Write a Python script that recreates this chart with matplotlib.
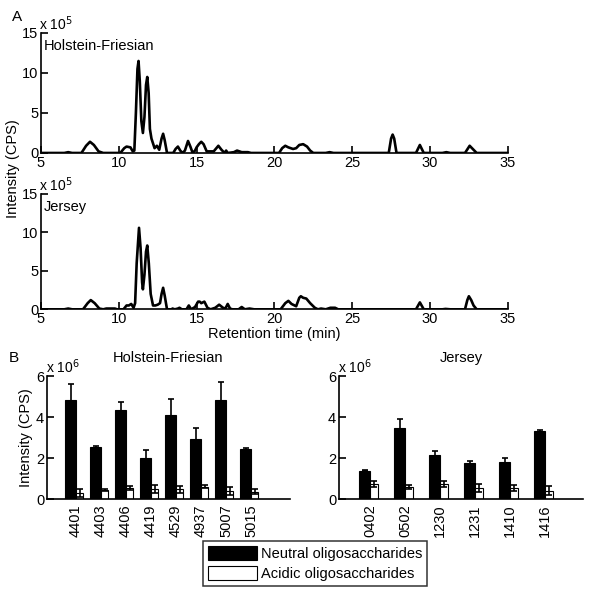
import numpy as np
from matplotlib import pyplot as plt

plt.rcParams['font.family'] = ['Liberation Sans', 'DejaVu Sans']
plt.rcParams['font.size'] = 10

# chromatogram traces, intensity in units of 1e5 CPS
hf_time = [5.0, 6.5, 6.75, 7.0, 7.6, 7.9, 8.15, 8.4, 8.7, 9.0, 10.1, 10.35, 10.5, 10.75,
           10.9, 11.0, 11.1, 11.2, 11.27, 11.35, 11.45, 11.55, 11.65, 11.75, 11.83, 11.92,
           12.0, 12.1, 12.3, 12.45, 12.6, 12.75, 12.85, 12.95, 13.1, 13.5, 13.65, 13.8,
           13.95, 14.1, 14.25, 14.45, 14.6, 14.75, 14.9, 15.0, 15.15, 15.3, 15.45, 15.65,
           16.1, 16.4, 16.6, 16.8, 16.9, 17.0, 17.4, 17.6, 17.9, 18.3, 18.5, 20.3, 20.5,
           20.7, 20.9, 21.2, 21.4, 21.6, 21.85, 22.1, 22.3, 22.5, 23.3, 23.55, 23.8, 27.35,
           27.5, 27.6, 27.7, 27.85, 29.1, 29.35, 29.6, 30.8, 31.05, 31.3, 32.25, 32.55,
           32.8, 33.0, 35.0]
hf_int = [0, 0, 0.1, 0, 0, 0.9, 1.4, 1.0, 0.2, 0, 0, 0.6, 0.8, 0.7,
          0.2, 0.3, 5.0, 10.5, 11.5, 9.0, 4.0, 2.5, 4.5, 8.5, 9.5, 7.5,
          3.0, 1.8, 0.6, 0.9, 0.4, 1.8, 2.4, 1.6, 0, 0, 0.5, 0.8,
          0.3, 0, 0.3, 1.5, 0.8, 0, 0.3, 0.7, 1.1, 1.4, 1.1, 0.2,
          0.2, 0.9, 0.4, 0, 0.3, 0, 0.1, 0.3, 0.1, 0.1, 0, 0, 0.6,
          0.9, 0.7, 0.5, 0.6, 1.0, 1.1, 0.8, 0.3, 0, 0, 0.1, 0, 0,
          1.8, 2.3, 1.8, 0, 0, 1.0, 0, 0, 0.1, 0, 0, 0.9,
          0.4, 0, 0]

jer_time = [5.0, 6.5, 6.75, 7.0, 7.7, 8.0, 8.2, 8.45, 8.75, 9.0, 9.2, 9.5, 9.75, 9.9,
            10.3, 10.5, 10.65, 10.8, 10.95, 11.05, 11.15, 11.3, 11.4, 11.5, 11.55, 11.65,
            11.75, 11.83, 11.93, 12.05, 12.2, 12.35, 12.5, 12.65, 12.75, 12.85, 12.95,
            13.1, 13.4, 13.45, 13.6, 13.8, 13.9, 14.05, 14.35, 14.5, 14.65, 14.9, 15.1,
            15.2, 15.3, 15.5, 15.7, 15.9, 16.2, 16.45, 16.7, 16.85, 17.0, 17.15, 17.3,
            17.7, 17.9, 18.1, 18.4, 18.7, 20.4, 20.7, 20.9, 21.1, 21.4, 21.6, 21.7, 21.85,
            22.05, 22.3, 22.6, 22.8, 23.0, 23.3, 23.6, 23.9, 24.1, 29.1, 29.35, 29.6,
            30.8, 31.0, 31.3, 32.25, 32.4, 32.5, 32.65, 32.8, 33.0, 35.0]
jer_int = [0, 0, 0.1, 0, 0, 0.8, 1.2, 0.8, 0.1, 0, 0.1, 0.1, 0.1, 0,
           0, 0.5, 0.5, 0.7, 0.2, 0.8, 6.0, 10.6, 8.0, 3.5, 2.6, 4.5,
           7.5, 8.3, 6.0, 2.0, 0.5, 0.5, 0.6, 0.8, 2.0, 2.8, 1.8,
           0, 0, 0.1, 0, 0.1, 0.2, 0, 0, 0.5, 0, 0.3, 1.0,
           1.0, 0.8, 1.0, 0.2, 0, 0.2, 0.6, 0.2, 0.1, 0.7, 0.1, 0,
           0, 0.3, 0, 0.1, 0, 0, 0.8, 1.1, 0.7, 0.4, 1.5, 1.7, 1.5,
           1.4, 0.8, 0.2, 0, 0.1, 0, 0.2, 0.2, 0, 0, 0.9, 0,
           0, 0.05, 0, 0, 1.2, 1.7, 1.2, 0.5, 0, 0]

# bar data, units of 1e6 CPS
hf_cows = ['4401', '4403', '4406', '4419', '4529', '4937', '5007', '5015']
hf_neutral = [4.83, 2.55, 4.34, 2.02, 4.10, 2.93, 4.83, 2.42]
hf_neutral_err = [0.80, 0.05, 0.38, 0.37, 0.80, 0.55, 0.90, 0.05]
hf_acidic = [0.28, 0.44, 0.52, 0.49, 0.47, 0.60, 0.40, 0.36]
hf_acidic_err = [0.20, 0.05, 0.10, 0.20, 0.17, 0.08, 0.20, 0.13]

jer_cows = ['0402', '0502', '1230', '1231', '1410', '1416']
jer_neutral = [1.38, 3.45, 2.15, 1.74, 1.82, 3.32]
jer_neutral_err = [0.02, 0.44, 0.20, 0.10, 0.20, 0.05]
jer_acidic = [0.73, 0.57, 0.73, 0.55, 0.55, 0.40]
jer_acidic_err = [0.13, 0.10, 0.14, 0.20, 0.15, 0.22]

fig = plt.figure(figsize=(6.0, 5.92), dpi=100)

def style_axes(ax):
    for s in ['top', 'right']:
        ax.spines[s].set_visible(False)
    for s in ['left', 'bottom']:
        ax.spines[s].set_linewidth(1.2)
    ax.tick_params(direction='in', length=5, width=1.2, labelsize=10.5, pad=2)

# chromatograms
chrom = [(hf_time, hf_int, 'Holstein-Friesian', [0.0683, 0.7416, 0.778, 0.2027]),
         (jer_time, jer_int, 'Jersey', [0.0683, 0.4775, 0.778, 0.1948])]
for t, y, name, rect in chrom:
    ax = fig.add_axes(rect)
    ax.plot(t, y, color='black', lw=1.9, solid_joinstyle='round')
    ax.set_xlim(5, 35)
    ax.set_ylim(0, 15)
    ax.set_xticks([5, 10, 15, 20, 25, 30, 35])
    ax.set_yticks([0, 5, 10, 15])
    style_axes(ax)
    ax.text(0.007, 0.95, name, transform=ax.transAxes, ha='left', va='top', fontsize=10.5)
    ax.text(-0.005, 1.0, r'x 10$^5$', transform=ax.transAxes, ha='left', va='bottom', fontsize=10)
    if name == 'Jersey':
        ax.set_xlabel('Retention time (min)', fontsize=10.5, labelpad=1)

fig.text(0.021, 0.715, 'Intensity (CPS)', rotation=90, ha='center', va='center', fontsize=10.5)
fig.text(0.02, 0.972, 'A', fontsize=11, ha='left', va='center')
fig.text(0.015, 0.396, 'B', fontsize=11, ha='left', va='center')

# bar charts
bars = [(hf_cows, hf_neutral, hf_neutral_err, hf_acidic, hf_acidic_err, 'Holstein-Friesian',
         [0.0783, 0.157, 0.405, 0.2078], (-0.16, 9.56), 0.42, 0.30),
        (jer_cows, jer_neutral, jer_neutral_err, jer_acidic, jer_acidic_err, 'Jersey',
         [0.565, 0.157, 0.4067, 0.2078], (0.114, 7.086), 0.31, 0.23)]
handles = None
for cows, neu, neu_err, aci, aci_err, name, rect, xl, wn, wa in bars:
    ax = fig.add_axes(rect)
    x = np.arange(1, len(cows) + 1)
    hn = ax.bar(x - wn / 2, neu, width=wn, color='black', edgecolor='black', lw=0.8,
                label='Neutral oligosaccharides')
    ax.errorbar(x - wn / 2, neu, yerr=neu_err, fmt='none', ecolor='black', elinewidth=1.2,
                capsize=2.5, capthick=1.2)
    ha = ax.bar(x + wa / 2, aci, width=wa, color='white', edgecolor='black', lw=0.8,
                label='Acidic oligosaccharides')
    ax.errorbar(x + wa / 2, aci, yerr=aci_err, fmt='none', ecolor='black', elinewidth=1.2,
                capsize=2.5, capthick=1.2)
    handles = [hn, ha]
    ax.set_xlim(*xl)
    ax.set_ylim(0, 6)
    ax.set_yticks([0, 2, 4, 6])
    ax.set_xticks(x)
    ax.set_xticklabels(cows, rotation=90)
    style_axes(ax)
    ax.tick_params(axis='x', length=0, pad=4)
    ax.text(-0.005, 1.0, r'x 10$^6$', transform=ax.transAxes, ha='left', va='bottom', fontsize=10)
    ax.set_title(name, fontsize=10.5, pad=10)
    if name == 'Holstein-Friesian':
        ax.set_ylabel('Intensity (CPS)', fontsize=10.5, labelpad=2)

leg = fig.legend(handles=handles, labels=['Neutral oligosaccharides', 'Acidic oligosaccharides'],
                 loc='center', bbox_to_anchor=(0.525, 0.048), fontsize=10.5, frameon=True,
                 fancybox=False, edgecolor='black', handlelength=3.4, handleheight=1.1,
                 handletextpad=0.25, borderpad=0.35, labelspacing=0.3, borderaxespad=0)
leg.get_frame().set_linewidth(1.1)

fig.savefig('out.png', dpi=100)
